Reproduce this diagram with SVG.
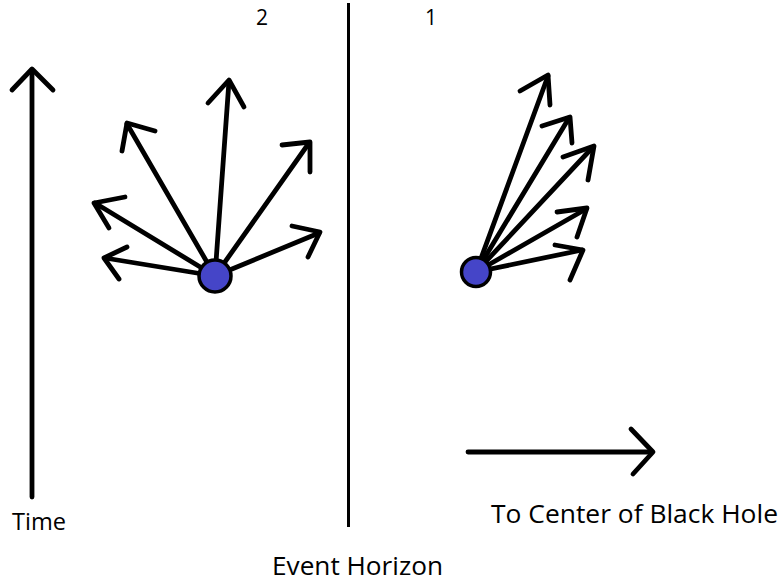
<svg xmlns="http://www.w3.org/2000/svg" width="784" height="582" viewBox="0 0 784 582">
<style>
.a{fill:none;stroke:#000;stroke-width:4.8;stroke-linecap:round;stroke-linejoin:round}
.b{fill:none;stroke:#000;stroke-width:3;stroke-linecap:butt}
.p{fill:#4545c8;stroke:#000;stroke-width:3.5}
.t{font-family:"Open Sans","Liberation Sans",sans-serif;fill:#000}
</style>
<rect width="784" height="582" fill="#fff"/>
<g id="connectors">
<g id="time-axis">
<line class="a" x1="32" y1="497" x2="32" y2="70"/>
<polyline class="a" points="12,90 32,69 53,90"/>
</g>
<line id="event-horizon" class="b" x1="348.5" y1="3" x2="348.5" y2="527"/>
<g id="direction-arrow">
<line class="a" x1="468" y1="452" x2="652" y2="452"/>
<polyline class="a" points="631,429 653,452 633,474"/>
</g>
<g id="rays-2">
<line class="a" x1="215" y1="276" x2="229" y2="81"/>
<polyline class="a" points="208,103 229,80 244,107"/>
<line class="a" x1="215" y1="276" x2="127" y2="124"/>
<polyline class="a" points="155,131 127,123 122,151"/>
<line class="a" x1="215" y1="276" x2="95" y2="203"/>
<polyline class="a" points="125,197 94,203 109,228"/>
<line class="a" x1="215" y1="276" x2="105" y2="258"/>
<polyline class="a" points="127,247 104,258 119,279"/>
<line class="a" x1="215" y1="276" x2="309" y2="143"/>
<polyline class="a" points="282,145 310,142 310,172"/>
<line class="a" x1="215" y1="276" x2="319" y2="233"/>
<polyline class="a" points="292,226 320,232 308,257"/>
</g>
<g id="rays-1">
<line class="a" x1="476" y1="272" x2="548" y2="76"/>
<polyline class="a" points="520,91 548,75 550,105"/>
<line class="a" x1="476" y1="272" x2="569" y2="118"/>
<polyline class="a" points="542,126 570,117 572,143"/>
<line class="a" x1="476" y1="272" x2="593" y2="147"/>
<polyline class="a" points="563,157 594,146 588,180"/>
<line class="a" x1="476" y1="272" x2="586" y2="209"/>
<polyline class="a" points="557,212 587,208 577,237"/>
<line class="a" x1="476" y1="272" x2="582" y2="250"/>
<polyline class="a" points="555,245 583,250 570,280"/>
</g>
</g>
<g id="particle-2"><circle class="p" cx="215" cy="276" r="16"/></g>
<g id="particle-1"><circle class="p" cx="476" cy="272" r="14.5"/></g>
<g id="label-2"><text class="t" x="256" y="25" font-size="21">2</text></g>
<g id="label-1"><text class="t" x="425" y="25" font-size="21">1</text></g>
<g id="label-time"><text class="t" x="12" y="530" font-size="23" textLength="54" lengthAdjust="spacingAndGlyphs">Time</text></g>
<g id="label-center"><text class="t" x="491" y="523" font-size="25" textLength="287" lengthAdjust="spacingAndGlyphs">To Center of Black Hole</text></g>
<g id="label-horizon"><text class="t" x="272" y="575" font-size="25" textLength="171" lengthAdjust="spacingAndGlyphs">Event Horizon</text></g>
</svg>
